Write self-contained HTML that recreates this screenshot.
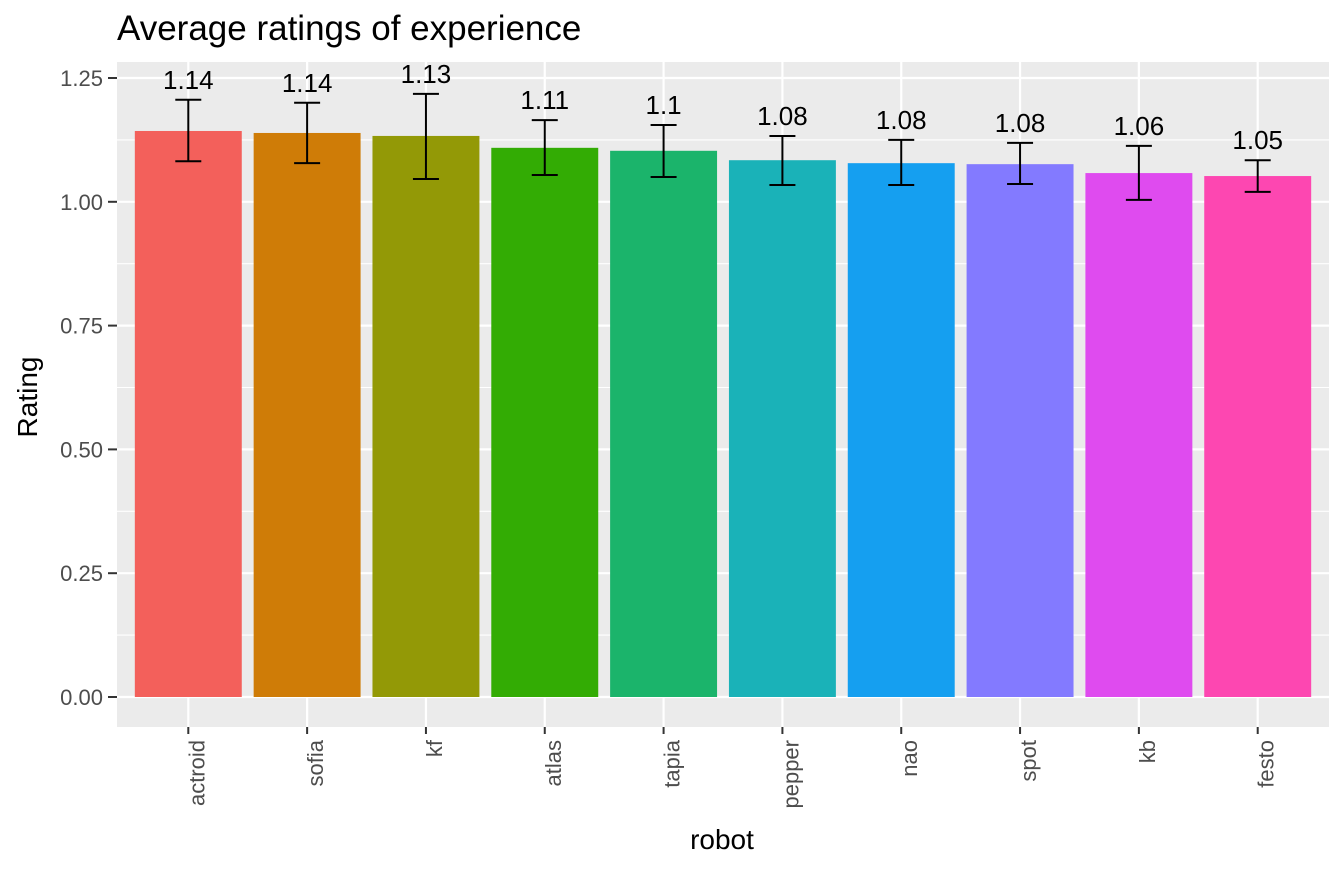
<!DOCTYPE html>
<html><head><meta charset="utf-8"><style>
body{margin:0;background:#fff;}
svg{font-family:"Liberation Sans",Arial,sans-serif;}
</style></head><body>
<svg id="chart" width="1344" height="864">
<rect x="0" y="0" width="1344" height="864" fill="#fff"/>
<text x="117" y="40" font-size="35" fill="#000">Average ratings of experience</text>
<rect x="117" y="62" width="1212" height="665" fill="#ebebeb"/>
<g id="grid"></g><g id="bars"></g><g id="axes"></g>
<text transform="translate(37,397) rotate(-90)" text-anchor="middle" font-size="28" fill="#000">Rating</text>
<text x="722" y="849" text-anchor="middle" font-size="28" fill="#000">robot</text>
</svg>
<script>
const categories=["actroid","sofia","kf","atlas","tapia","pepper","nao","spot","kb","festo"];
const means=[1.143,1.139,1.133,1.109,1.103,1.084,1.078,1.076,1.058,1.052];
const lows=[1.082,1.078,1.046,1.054,1.05,1.034,1.034,1.036,1.004,1.02];
const highs=[1.206,1.2,1.218,1.165,1.155,1.133,1.125,1.119,1.113,1.084];
const labels=["1.14","1.14","1.13","1.11","1.1","1.08","1.08","1.08","1.06","1.05"];
const colors=["#F3605B","#CF7C07","#939906","#33AC04","#1BB46B","#1AB2B8","#159FF0","#837AFF","#DF4BEF","#FD47B1"];
const yTicks=[0,0.25,0.5,0.75,1.0,1.25];
const yTickLabels=["0.00","0.25","0.50","0.75","1.00","1.25"];
const NS="http://www.w3.org/2000/svg";
const px0=117,px1=1329,py0=62,py1=727;
const y=v=>697-v*495.2;
const band=(px1-px0)/(categories.length-1+1.2);
const x=i=>px0+band*(0.6+i);
function mk(tag,attrs,parent){const e=document.createElementNS(NS,tag);for(const k in attrs)e.setAttribute(k,attrs[k]);parent.appendChild(e);return e;}
const grid=document.getElementById('grid'),bars=document.getElementById('bars'),axes=document.getElementById('axes');
for(let i=0;i<yTicks.length-1;i++){const m=(yTicks[i]+yTicks[i+1])/2;
 const l=mk('line',{x1:px0,x2:px1,y1:y(m),y2:y(m),stroke:'#fff','stroke-width':1.1},grid);
 
 }
yTicks.forEach((t,i)=>{
 const l=mk('line',{x1:px0,x2:px1,y1:y(t),y2:y(t),stroke:'#fff','stroke-width':2.2},grid);
 
 
 const tk=mk('line',{x1:108,x2:117,y1:y(t),y2:y(t),stroke:'#333','stroke-width':2},axes);
 
 
 const tx=mk('text',{x:103,y:y(t)+8,'text-anchor':'end','font-size':22,fill:'#4d4d4d'},axes);
 tx.textContent=yTickLabels[i];
 
 
});
categories.forEach((c,i)=>{
 const cx=x(i),w=band*0.9;
 const vl=mk('line',{x1:cx,x2:cx,y1:py0,y2:py1,stroke:'#fff','stroke-width':2.2},grid);
 
 
 const r=mk('rect',{x:cx-w/2,y:y(means[i]),width:w,height:y(0)-y(means[i]),fill:colors[i]},bars);
 
 
 const eb=mk('path',{d:`M${cx-13},${y(highs[i])}H${cx+13}M${cx},${y(highs[i])}V${y(lows[i])}M${cx-13},${y(lows[i])}H${cx+13}`,stroke:'#000','stroke-width':2,fill:'none'},bars);
 
 
 const lb=mk('text',{x:cx,y:y(highs[i])-11,'text-anchor':'middle','font-size':26,fill:'#000'},bars);
 lb.textContent=labels[i];
 
 
 const tk=mk('line',{x1:cx,x2:cx,y1:727,y2:734,stroke:'#333','stroke-width':2},axes);
 
 
 const tx=mk('text',{transform:`translate(${cx+16},740) rotate(-90)`,'text-anchor':'end','font-size':22,fill:'#4d4d4d'},axes);
 tx.textContent=c;
 
 
});
</script>
</body></html>
